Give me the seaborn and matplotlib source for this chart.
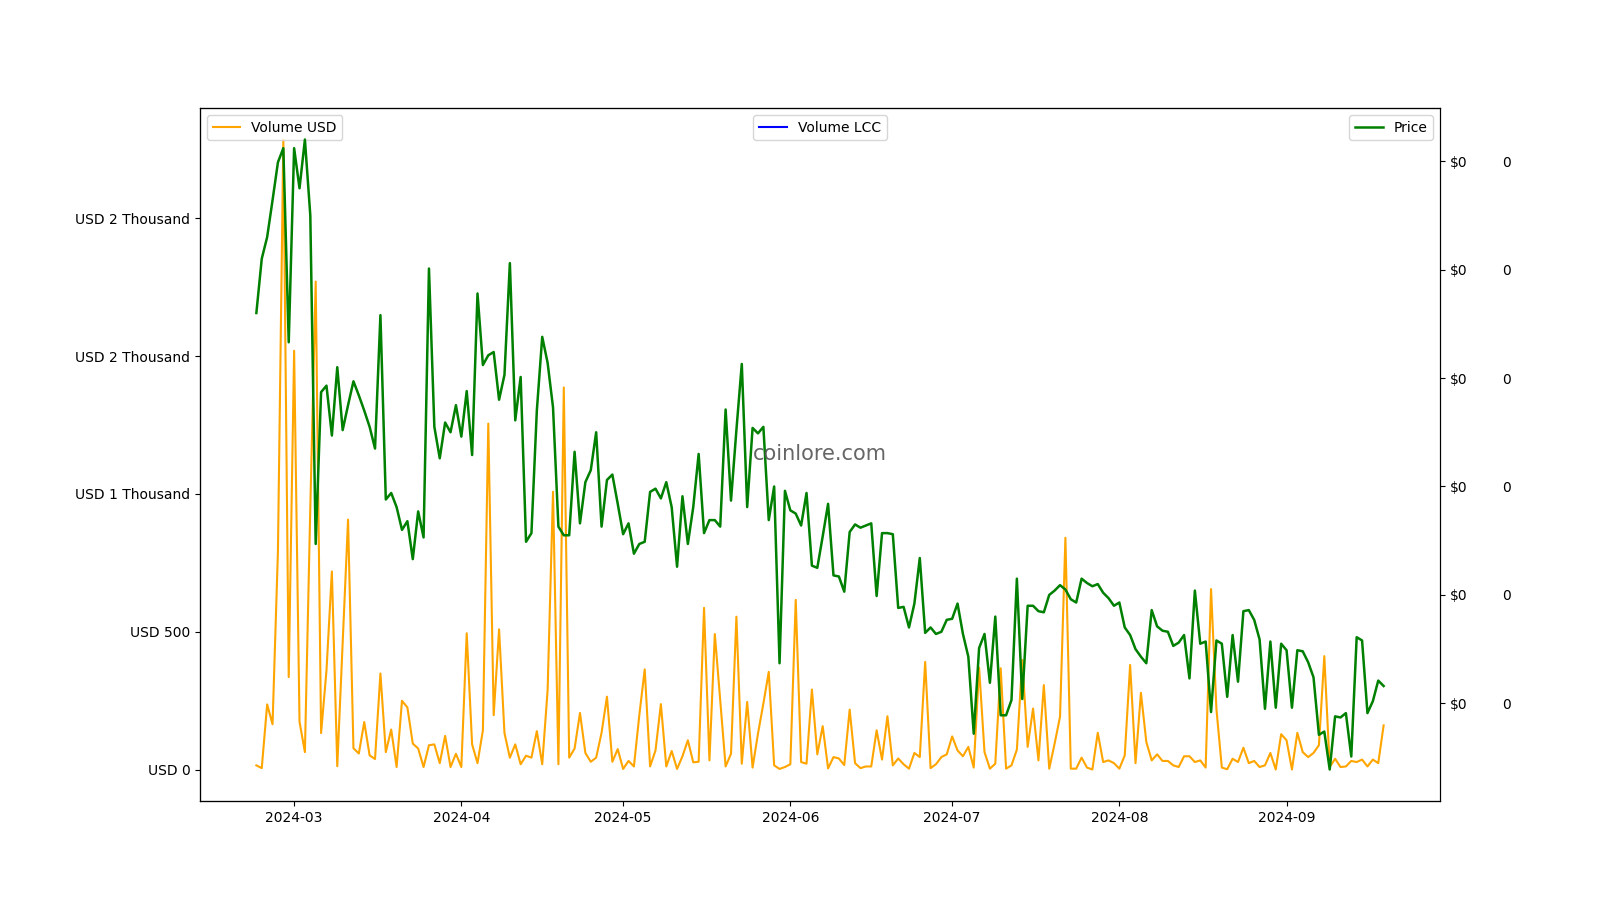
import matplotlib
matplotlib.use('Agg')
import matplotlib.pyplot as plt
import matplotlib.dates as mdates
from matplotlib.ticker import FuncFormatter
import numpy as np
import pandas as pd
import seaborn as sns

# daily data, 2024-02-23 .. 2024-09-19
dates = pd.date_range('2024-02-23', '2024-09-19', freq='D')

volume_usd = [
    16, 6, 237, 165, 793, 2285, 336, 1519, 174, 64,
    950, 1770, 133, 360, 719, 13, 460, 907, 78, 59,
    173, 52, 39, 349, 64, 146, 10, 250, 226, 95,
    77, 10, 89, 92, 24, 123, 10, 58, 10, 495,
    92, 24, 143, 1255, 198, 509, 133, 44, 92, 20,
    51, 44, 140, 20, 289, 1008, 20, 1386, 44, 77,
    206, 61, 29, 44, 134, 265, 29, 75, 3, 32,
    12, 198, 364, 12, 70, 238, 12, 68, 3, 49,
    107, 27, 29, 587, 34, 492, 252, 12, 58, 555,
    22, 246, 8, 131, 240, 355, 16, 3, 10, 20,
    616, 28, 22, 291, 56, 158, 5, 46, 41, 17,
    218, 24, 6, 12, 12, 143, 37, 194, 16, 41,
    20, 4, 61, 46, 391, 6, 20, 46, 56, 121,
    70, 49, 83, 8, 370, 64, 4, 22, 368, 4,
    16, 73, 398, 83, 222, 34, 307, 4, 95, 192,
    841, 4, 4, 44, 8, 1, 134, 28, 34, 24,
    4, 52, 380, 24, 279, 101, 34, 56, 32, 32,
    16, 10, 49, 49, 28, 34, 8, 655, 220, 8,
    2, 40, 28, 80, 24, 32, 10, 16, 61, 1,
    129, 107, 1, 134, 64, 46, 61, 89, 412, 10,
    40, 10, 12, 32, 28, 37, 12, 37, 24, 161,
]

# price in units of 1e-5 USD
price_e5 = [
    6.60, 7.10, 7.30, 7.64, 7.99, 8.12, 6.33, 8.12, 7.75, 8.20,
    7.50, 4.47, 5.87, 5.93, 5.47, 6.10, 5.52, 5.75, 5.97, 5.84,
    5.70, 5.55, 5.35, 6.58, 4.88, 4.94, 4.81, 4.60, 4.68, 4.33,
    4.77, 4.53, 7.01, 5.55, 5.26, 5.59, 5.50, 5.75, 5.46, 5.88,
    5.29, 6.78, 6.12, 6.21, 6.24, 5.80, 6.03, 7.06, 5.61, 6.01,
    4.49, 4.57, 5.70, 6.38, 6.14, 5.73, 4.63, 4.55, 4.55, 5.32,
    4.66, 5.04, 5.15, 5.50, 4.63, 5.06, 5.11, 4.84, 4.56, 4.66,
    4.38, 4.47, 4.49, 4.95, 4.98, 4.89, 5.04, 4.81, 4.26, 4.91,
    4.47, 4.81, 5.30, 4.57, 4.69, 4.69, 4.63, 5.71, 4.87, 5.52,
    6.13, 4.81, 5.54, 5.49, 5.55, 4.69, 5.00, 3.37, 4.96, 4.78,
    4.75, 4.64, 4.94, 4.27, 4.25, 4.54, 4.84, 4.18, 4.17, 4.03,
    4.58, 4.65, 4.62, 4.64, 4.66, 3.99, 4.57, 4.57, 4.56, 3.88,
    3.89, 3.70, 3.92, 4.34, 3.65, 3.70, 3.64, 3.66, 3.77, 3.78,
    3.92, 3.64, 3.43, 2.72, 3.51, 3.64, 3.19, 3.80, 2.89, 2.89,
    3.03, 4.15, 3.04, 3.90, 3.90, 3.85, 3.84, 4.00, 4.04, 4.09,
    4.05, 3.96, 3.93, 4.15, 4.11, 4.08, 4.10, 4.02, 3.97, 3.90,
    3.93, 3.70, 3.63, 3.50, 3.43, 3.37, 3.86, 3.71, 3.67, 3.66,
    3.53, 3.56, 3.63, 3.23, 4.04, 3.55, 3.57, 2.92, 3.58, 3.55,
    3.06, 3.63, 3.20, 3.85, 3.86, 3.77, 3.59, 2.95, 3.57, 2.96,
    3.55, 3.49, 2.96, 3.49, 3.48, 3.38, 3.24, 2.71, 2.74, 2.39,
    2.88, 2.87, 2.91, 2.51, 3.61, 3.58, 2.91, 3.02, 3.21, 3.16,
]

# no LCC volume reported
volume_lcc = [np.nan] * len(dates)

df = pd.DataFrame({
    'date': dates,
    'volume_usd': volume_usd,
    'price': np.array(price_e5) * 1e-5,
    'volume_lcc': volume_lcc,
})


def usd_fmt(x, pos):
    if abs(x) < 1000:
        return 'USD {:.0f}'.format(x)
    return 'USD {:.0f} Thousand'.format(x / 1000)


fig, ax = plt.subplots(figsize=(16, 9), dpi=100)

sns.lineplot(x='date', y='volume_usd', data=df, ax=ax, color='orange',
             linewidth=1.5, label='Volume USD')
ax.set_xlabel('')
ax.set_ylabel('')
ax.yaxis.set_major_formatter(FuncFormatter(usd_fmt))
ax.legend(loc='upper left')

ax2 = ax.twinx()
sns.lineplot(x='date', y='price', data=df, ax=ax2, color='green',
             linewidth=1.8, label='Price')
ax2.set_ylabel('')
ax2.yaxis.set_major_formatter(FuncFormatter(lambda x, p: '${:.0f}'.format(x)))
ax2.legend(loc='upper right')

ax3 = ax.twinx()
ax3.plot(df['date'], df['volume_lcc'], color='blue', linewidth=1.5, label='Volume LCC')
ax3.set_ylim(ax2.get_ylim())
ax3.spines['right'].set_position(('outward', 38))
ax3.spines['right'].set_visible(False)
ax3.tick_params(axis='y', length=0, pad=7)
ax3.yaxis.set_major_formatter(FuncFormatter(lambda x, p: '{:.0f}'.format(x)))
ax3.legend(loc='upper center')

ax.xaxis.set_major_locator(mdates.MonthLocator())
ax.xaxis.set_major_formatter(mdates.DateFormatter('%Y-%m'))

ax3.text(0.5, 0.5, 'coinlore.com', transform=ax3.transAxes, ha='center', va='center',
         fontsize=15, color='#555555', alpha=0.9)

plt.savefig('out.png', dpi=100)
